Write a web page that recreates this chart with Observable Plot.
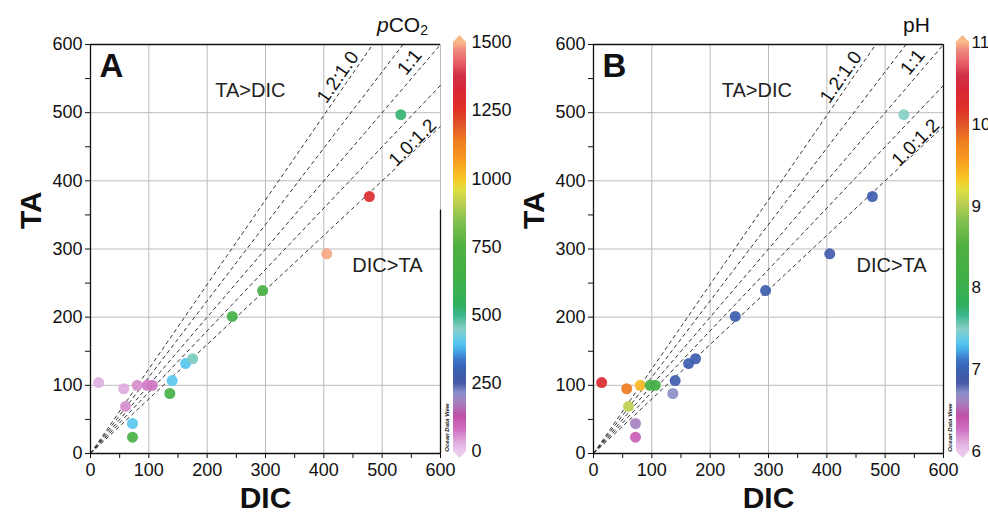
<!DOCTYPE html>
<html><head><meta charset="utf-8">
<script src="https://cdn.jsdelivr.net/npm/d3@7"></script>
<script src="https://cdn.jsdelivr.net/npm/@observablehq/plot@0.6"></script>
<style>
body{margin:0;background:#fff;font-family:"Liberation Sans",Arial,sans-serif;}
#fig{position:relative;width:988px;height:514px;overflow:hidden;background:#fff}
#fig .pane{position:absolute;top:0}
.title{position:absolute;font-size:21px;color:#111;line-height:1}
.title sub{font-size:14px;vertical-align:-3px;line-height:0}
</style></head><body><div id="fig"></div>
<script>
// ---- data ----
const dic  = [14, 57, 80, 97, 106, 140, 136, 60, 72, 72, 163, 175, 243, 295, 405, 478, 532];
const ta   = [104, 95, 100, 100, 100, 107, 88, 69, 44, 24, 132, 139, 201, 239, 293, 377, 497];
const pco2 = [30, 35, 55, 70, 75, 400, 680, 55, 400, 690, 395, 455, 670, 690, 1490, 1290, 520];
const ph   = [10.35, 9.8, 9.4, 8.3, 8.2, 6.95, 6.7, 9.05, 6.6, 6.35, 6.95, 6.95, 6.95, 6.95, 6.9, 6.95, 7.5];

const ratios = [1.24, 1.12, 1.0, 0.9, 0.8];
const ratioLabels = ["1.2:1.0", "1:1", "1.0:1.2"];
const ratioLabelDic = [424, 547, 552];
const ratioLabelTa = [552, 574, 456];
const ratioLabelAngle = [-55, -51, -45];

const majorTicks = [0, 100, 200, 300, 400, 500, 600];
const allTicks = [0, 50, 100, 150, 200, 250, 300, 350, 400, 450, 500, 550, 600];
const pco2Ticks = [0, 250, 500, 750, 1000, 1250, 1500];
const phTicks = [6, 7, 8, 9, 10, 11];

// ODV-like palette (fraction of range -> colour)
const paletteStops  = [0, 0.02, 0.053, 0.086, 0.118, 0.143, 0.167, 0.2, 0.224, 0.249, 0.265, 0.298, 0.33, 0.355, 0.42, 0.5, 0.56, 0.61, 0.64, 0.665, 0.706, 0.755, 0.796, 0.837, 0.886, 0.918, 0.95, 0.984, 1];
const paletteColors = ["#ebc8ec", "#e0b0e0", "#d070c0", "#c050a8", "#a880c0", "#8890c8", "#4858a8", "#3860b0", "#3c78c8", "#48b0e8", "#58c8f0", "#88d0c8", "#40b890", "#30b060", "#40b048", "#50b040", "#80c050", "#c0d050", "#e0e040", "#f8c828", "#f8a020", "#f08020", "#e05828", "#e03028", "#d82838", "#d03048", "#e86068", "#f09080", "#f8b888"];

const rows = dic.map((d, i) => ({dic: d, ta: ta[i], pco2: pco2[i], ph: ph[i]}));
const lines = ratios.map(s => { const x2 = Math.min(600, 600 / s); return {x2, y2: s * x2}; });
const labels = ratioLabels.map((t, i) => ({t, x: ratioLabelDic[i], y: ratioLabelTa[i], a: ratioLabelAngle[i]}));

const font = "'Liberation Sans', Arial, sans-serif";
const fig = document.getElementById("fig");

function colorScale(lo, hi) {
  return {type: "linear", domain: paletteStops.map(f => lo + f * (hi - lo)), range: paletteColors, clamp: true};
}

function panel(opt) {
  const p = Plot.plot({
    width: 455, height: 514,
    marginLeft: 90, marginRight: 15, marginTop: 44, marginBottom: 61,
    style: {fontFamily: font, fontSize: "18px", color: "#111", background: "transparent", overflow: "visible"},
    x: {domain: [0, 600], label: null},
    y: {domain: [0, 600], label: null},
    color: colorScale(opt.lo, opt.hi),
    marks: [
      Plot.gridX(majorTicks, {stroke: "#bdbdbd", strokeOpacity: 1, strokeWidth: 1}),
      Plot.gridY(majorTicks, {stroke: "#bdbdbd", strokeOpacity: 1, strokeWidth: 1}),
      Plot.axisX(allTicks, {tickSize: 5, tickPadding: 5, fontSize: 18, label: null, tickFormat: d => d % 100 ? "" : String(d)}),
      Plot.axisY(allTicks, {tickSize: 5, tickPadding: 3, fontSize: 18, label: null, tickFormat: d => d % 100 ? "" : String(d)}),
      Plot.link(lines, {x1: d => 0, y1: d => 0, x2: "x2", y2: "y2", stroke: "#333", strokeWidth: 1, strokeDasharray: "4,3"}),
      Plot.text(labels, {x: "x", y: "y", text: "t", rotate: "a", fontSize: 19, fill: "#111", stroke: "white", strokeWidth: 1.5}),
      Plot.text(["TA>DIC"], {x: opt.tadicX, y: 532, fontSize: 20, fill: "#222"}),
      Plot.text(["DIC>TA"], {x: opt.dictaX, y: 276, fontSize: 20, fill: "#222"}),
      Plot.dot(rows, {x: "dic", y: "ta", fill: opt.key, r: 5.5, fillOpacity: 0.92}),
      Plot.ruleY([0, 600], {stroke: "#111", strokeWidth: 1.3}),
      Plot.ruleX([0], {stroke: "#111", strokeWidth: 1.3}),
      opt.fullRight
        ? Plot.ruleX([600], {stroke: "#111", strokeWidth: 1.3})
        : Plot.ruleX([600], {y1: 0, y2: 357, stroke: "#111", strokeWidth: 1.3}),
      Plot.text(["Ocean Data View"], {x: 600, y: 38, dx: 7, rotate: -90, fontSize: 6, fontWeight: "bold", fontStyle: "italic", fill: "#111"}),
      Plot.text([opt.letter], {frameAnchor: "top-left", dx: 9, dy: 9, lineAnchor: "top", textAnchor: "start", fontSize: 33, fontWeight: "bold", fill: "#111"}),
      Plot.text(["DIC"], {frameAnchor: "bottom", dy: 45, lineAnchor: "middle", fontSize: 30, fontWeight: "bold", fill: "#111"}),
      Plot.text(["TA"], {frameAnchor: "left", dx: -59, dy: -20, rotate: -90, lineAnchor: "middle", fontSize: 30, fontWeight: "bold", fill: "#111"})
    ]
  });
  p.classList.add("pane");
  p.style.left = opt.left + "px";
  fig.appendChild(p);
}

function colorbar(opt) {
  const step = (opt.hi - opt.lo) / 300;
  const bins = d3.range(300).map(i => [opt.lo + i * step, opt.lo + (i + 1) * step]);
  const w = opt.width;
  const cb = Plot.plot({
    width: w, height: 514,
    marginLeft: 0, marginRight: w - opt.bar, marginTop: 42, marginBottom: 63,
    style: {fontFamily: font, fontSize: opt.fs + "px", color: "#111", background: "transparent", overflow: "visible"},
    x: {domain: [0, 1], axis: null},
    y: {domain: [opt.lo, opt.hi], axis: null},
    color: colorScale(opt.lo, opt.hi),
    marks: [
      Plot.rect(bins, {x1: d => 0, x2: d => 1, y1: d => d[0], y2: d => d[1] + step * 0.6, fill: d => (d[0] + d[1]) / 2}),
      Plot.axisY(opt.ticks, {anchor: "right", tickSize: 0, tickPadding: opt.pad, fontSize: opt.fs, label: null, tickFormat: d => String(d)})
    ]
  });
  const ys = cb.scale("y"), cs = cb.scale("color");
  const top = ys.apply(opt.hi), bot = ys.apply(opt.lo), b = opt.bar;
  const svg = d3.select(cb.tagName.toLowerCase() === "svg" ? cb : cb.querySelector("svg"));
  svg.append("path").attr("d", `M0,${top}L${b / 2},${top - 7}L${b},${top}Z`).attr("fill", cs.apply(opt.hi));
  svg.append("path").attr("d", `M0,${bot}L${b / 2},${bot + 7}L${b},${bot}Z`).attr("fill", cs.apply(opt.lo));
  cb.classList.add("pane");
  cb.style.left = opt.left + "px";
  fig.appendChild(cb);
}

panel({left: 0, lo: 0, hi: 1500, key: "pco2", letter: "A", tadicX: 274, dictaX: 509, fullRight: false});
panel({left: 503, lo: 6, hi: 11, key: "ph", letter: "B", tadicX: 280, dictaX: 511, fullRight: true});
colorbar({left: 453, width: 70, bar: 13, lo: 0, hi: 1500, ticks: pco2Ticks, fs: 18, pad: 5});
colorbar({left: 956, width: 32, bar: 13, lo: 6, hi: 11, ticks: phTicks, fs: 17, pad: 2});

const t1 = document.createElement("div");
t1.className = "title"; t1.style.left = "377px"; t1.style.top = "14px";
t1.innerHTML = "<i>p</i>CO<sub>2</sub>";
fig.appendChild(t1);
const t2 = document.createElement("div");
t2.className = "title"; t2.style.left = "903px"; t2.style.top = "14px";
t2.textContent = "pH";
fig.appendChild(t2);
</script></body></html>
